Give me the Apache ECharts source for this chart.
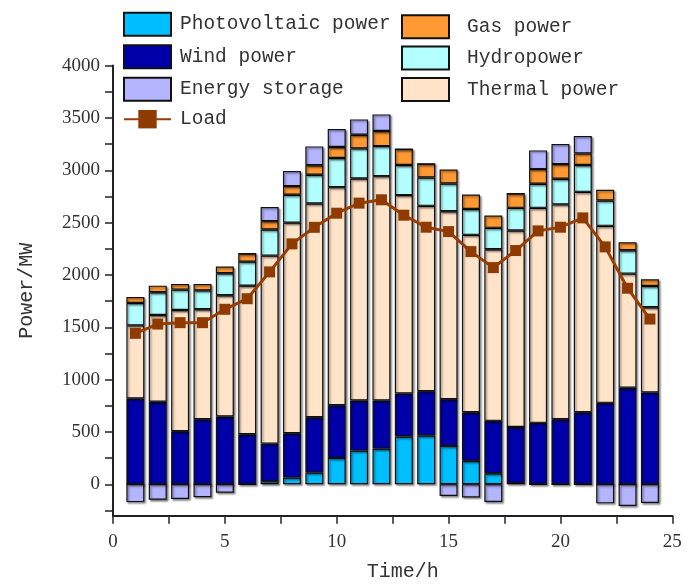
<!DOCTYPE html>
<html><head><meta charset="utf-8">
<script src="https://cdn.jsdelivr.net/npm/echarts@6/dist/echarts.min.js"></script>
<style>html,body{margin:0;padding:0;background:#fff}#c{width:687px;height:585px}</style>
</head><body><div id="c"></div>
<script>
const hours = [1,2,3,4,5,6,7,8,9,10,11,12,13,14,15,16,17,18,19,20,21,22,23,24];
const photovoltaic = [0,0,0,0,0,0,30,64,112,252,322,341,456,466,367,225,105,13,0,0,0,0,0,0];
const wind = [820,788,507,622,648,478,359,424,529,504,479,460,412,424,446,463,501,535,587,622,689,778,922,878];
const thermal = [698,829,1158,1050,1158,1420,1796,2012,2041,2083,2120,2143,1895,1770,1796,1695,1639,1876,2054,2052,2105,1691,1091,813];
const hydro = [214,217,195,181,210,229,249,266,275,278,288,287,287,271,265,247,205,217,230,245,256,242,223,204];
const gas = [58,64,54,61,64,77,80,83,91,105,131,144,153,131,134,138,118,137,140,140,111,102,77,64];
const storage = [-170,-147,-141,-124,-80,0,134,144,180,172,146,159,0,0,-112,-125,-169,0,179,191,166,-182,-208,-179];
const load = [1442,1531,1544,1544,1672,1773,2029,2297,2455,2590,2686,2718,2571,2456,2414,2223,2070,2233,2421,2456,2545,2268,1873,1579];
const xTickValues = [0,2.5,5,7.5,10,12.5,15,17.5,20,22.5,25];
const xLabelValues = [0,5,10,15,20,25];
const yTickValues = [-250,0,250,500,750,1000,1250,1500,1750,2000,2250,2500,2750,3000,3250,3500,3750,4000];
const yLabelValues = [0,500,1000,1500,2000,2500,3000,3500,4000];

// category slots 0..25 so that hour h sits at h/25 of the axis (matches the value axis 0–25)
const slots = [0].concat(hours, [25]).map(String);
const pad = arr => [null].concat(arr, [null]);
const monoFont = 'Liberation Mono';
const numFont = 'Liberation Serif';
const txt = '#333';

function barSeries(name, arr, color) {
  return {
    name: name, type: 'bar', stack: 'total', barWidth: 18, xAxisIndex: 0,
    data: pad(arr),
    itemStyle: { color: color, borderColor: '#111', borderWidth: 1.2,
      shadowColor: 'rgba(0,0,0,0.45)', shadowBlur: 2, shadowOffsetX: 1.5, shadowOffsetY: 1.5 },
    emphasis: { disabled: true }
  };
}

const chart = echarts.init(document.getElementById('c'), null, { renderer: 'canvas' });
chart.setOption({
  animation: false,
  backgroundColor: '#fff',
  grid: { left: 113, right: 14.7, top: 65.6, bottom: 69.3, containLabel: false, outerBoundsMode: 'none' },
  legend: [
    { orient: 'vertical', left: 123, top: 11.7, padding: 0, itemWidth: 47, itemHeight: 23, itemGap: 7.5,
      data: [{ name: 'Photovoltaic power', icon: 'rect' }, { name: 'Wind power', icon: 'rect' },
             { name: 'Energy storage', icon: 'rect' }, { name: 'Load' }],
      textStyle: { fontFamily: monoFont, fontSize: 19.5, color: txt, padding: [2,0,0,4] } },
    { orient: 'vertical', left: 401, top: 14.3, padding: 0, itemWidth: 47, itemHeight: 23, itemGap: 6.3,
      data: [{ name: 'Gas power', icon: 'rect' }, { name: 'Hydropower', icon: 'rect' }, { name: 'Thermal power', icon: 'rect' }],
      textStyle: { fontFamily: monoFont, fontSize: 19.5, color: txt, padding: [2,0,0,13] } }
  ],
  xAxis: [
    { type: 'category', data: slots, boundaryGap: false, show: false },
    {
      type: 'value', min: 0, max: 25, position: 'bottom',
      name: 'Time/h', nameLocation: 'middle', nameGap: 46,
      nameTextStyle: { fontFamily: monoFont, fontSize: 20, color: txt, padding: [0,0,0,20] },
      axisLine: { show: true, onZero: false, lineStyle: { color: '#222', width: 2 } },
      axisTick: { show: true, customValues: xTickValues, length: 8, inside: false, lineStyle: { color: '#222', width: 1.5 } },
      axisLabel: { customValues: xLabelValues, margin: 17, fontFamily: numFont, fontSize: 19, color: txt,
        formatter: v => String(v) },
      splitLine: { show: false }
    }
  ],
  yAxis: {
    type: 'value', min: -300, max: 4000,
    name: 'Power/MW', nameLocation: 'middle', nameGap: 76, nameRotate: 90,
    nameTextStyle: { fontFamily: monoFont, fontSize: 20, color: txt },
    axisLine: { show: true, onZero: false, lineStyle: { color: '#222', width: 2 } },
    axisTick: { show: true, customValues: yTickValues, length: 8, inside: false, lineStyle: { color: '#222', width: 1.5 } },
    axisLabel: { customValues: yLabelValues, margin: 13, fontFamily: numFont, fontSize: 19, color: txt,
      formatter: v => String(v) },
    splitLine: { show: false }
  },
  series: [
    barSeries('Photovoltaic power', photovoltaic, '#00BFFF'),
    barSeries('Wind power', wind, '#0000AA'),
    barSeries('Thermal power', thermal, '#FFE4C9'),
    barSeries('Hydropower', hydro, '#B3FFFF'),
    barSeries('Gas power', gas, '#FF9933'),
    barSeries('Energy storage', storage, '#B4B4FF'),
    { name: 'Load', type: 'line', xAxisIndex: 0, data: pad(load), z: 10,
      symbol: 'rect', symbolSize: 11,
      itemStyle: { color: '#8E3A00' },
      lineStyle: { color: '#993D00', width: 3 },
      emphasis: { disabled: true } }
  ]
});
</script></body></html>
